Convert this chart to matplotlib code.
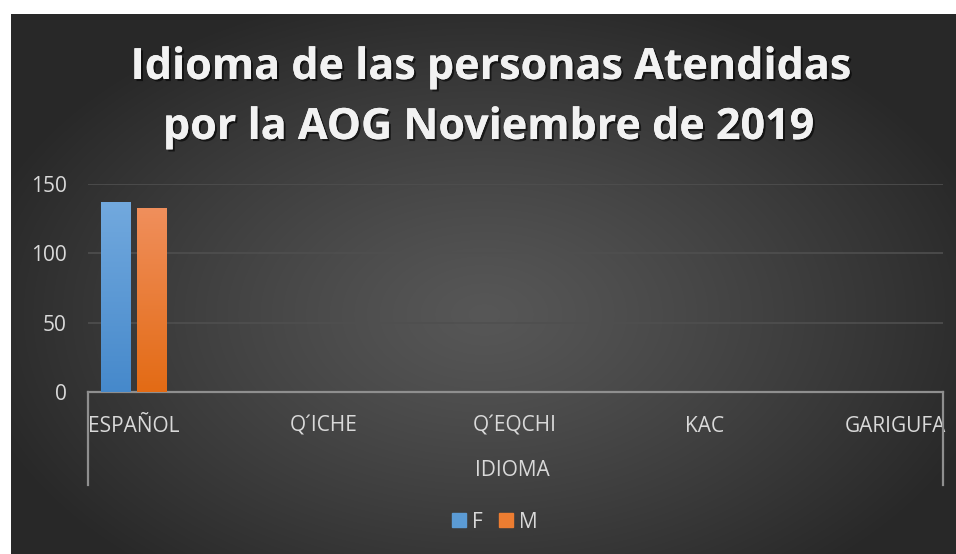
import numpy as np
import matplotlib.pyplot as plt
import matplotlib.patheffects as pe
from matplotlib.patches import Patch
from matplotlib.colors import LinearSegmentedColormap

idiomas = ['ESPAÑOL', 'Q´ICHE', 'Q´EQCHI', 'KAC', 'GARIGUFA']
valores_f = [137, 0, 0, 0, 0]
valores_m = [133, 0, 0, 0, 0]
series = ['F', 'M']

W, H = 956, 554
fig = plt.figure(figsize=(W / 100, H / 100), dpi=100)
fig.patch.set_facecolor('white')

# dark panel with radial gradient
bg = fig.add_axes([11 / W, 0, 1 - 11 / W, 1 - 14 / H])
bg.set_axis_off()
yy, xx = np.mgrid[0:540, 0:945]
r = np.sqrt(((xx - 473) / 520) ** 2 + ((yy - 300) / 330) ** 2)
r = np.clip(r, 0, 1)
c0, c1 = 0.34, 0.16
img = c0 + (c1 - c0) * r ** 1.2
bg.imshow(np.dstack([img] * 3), aspect='auto', extent=[0, 1, 0, 1])

ax = fig.add_axes([87.5 / W, (H - 392.3) / H, (942.7 - 87.5) / W, (392.3 - 184) / H])
ax.patch.set_alpha(0)

x = np.arange(len(idiomas))
bw = 0.155
bars_f = ax.bar(x - 0.095, valores_f, bw, color='#5b9bd5', zorder=3)
bars_m = ax.bar(x + 0.095, valores_m, bw, color='#ed7d31', zorder=3)

cmap_f = LinearSegmentedColormap.from_list('f', ['#4689cb', '#72a9de'])
cmap_m = LinearSegmentedColormap.from_list('m', ['#e36b15', '#f08f5c'])
grad = np.linspace(0, 1, 100).reshape(-1, 1)
for bars, cm in [(bars_f, cmap_f), (bars_m, cmap_m)]:
    for b in bars:
        if b.get_height() <= 0:
            continue
        x0, y0 = b.get_x(), b.get_y()
        im = ax.imshow(grad, cmap=cm, origin='lower', aspect='auto', zorder=4,
                       extent=[x0, x0 + b.get_width(), y0, y0 + b.get_height()])
        im.set_clip_path(b)

ax.set_xlim(-0.244, 4.251)
ax.set_ylim(0, 150)
ax.set_yticks([0, 50, 100, 150])
ax.yaxis.grid(True, color='#4f4f4f', linewidth=1.2, zorder=0)
ax.set_xticks(x)
ax.set_xticklabels(idiomas)
for s in ['top', 'right', 'left']:
    ax.spines[s].set_visible(False)
ax.spines['bottom'].set_color('#8f8f8f')
ax.spines['bottom'].set_linewidth(1.6)
ax.tick_params(axis='both', length=0, labelsize=15, labelcolor='#d9d9d9')
ax.tick_params(axis='x', pad=17)
ax.tick_params(axis='y', pad=15)
for t in ax.get_xticklabels() + ax.get_yticklabels():
    t.set_fontfamily('Open Sans')

# multi-level category bracket
dy = -(485 - 392.3) / (392.3 - 184)
for xb in [0, 1]:
    ax.plot([xb, xb], [0, dy], transform=ax.transAxes, color='#8f8f8f',
            linewidth=1.6, clip_on=False)

fig.text(512 / W, 1 - 470 / H, 'IDIOMA', ha='center', va='center',
         fontsize=15, color='#d9d9d9', family='Open Sans')

shadow = [pe.withSimplePatchShadow(offset=(1.5, -1.5), shadow_rgbFace='black', alpha=0.6),
          pe.Normal()]
fig.text(490 / W, 1 - 79 / H, 'Idioma de las personas Atendidas', ha='center',
         va='baseline', fontsize=31, fontweight='bold', color='#f2f2f2',
         family='Open Sans', path_effects=shadow)
fig.text(488 / W, 1 - 139 / H, 'por la AOG Noviembre de 2019', ha='center',
         va='baseline', fontsize=31, fontweight='bold', color='#f2f2f2',
         family='Open Sans', path_effects=shadow)

handles = [Patch(color='#5b9bd5'), Patch(color='#ed7d31')]
leg = fig.legend(handles, series, loc='center', bbox_to_anchor=(495 / W, 1 - 522 / H),
                 ncol=2, frameon=False, handlelength=0.65,
                 handleheight=0.65, handletextpad=0.3, columnspacing=0.8,
                 prop={'family': 'Open Sans', 'size': 15})
for t in leg.get_texts():
    t.set_color('#d9d9d9')

fig.savefig('out.png', dpi=100)
